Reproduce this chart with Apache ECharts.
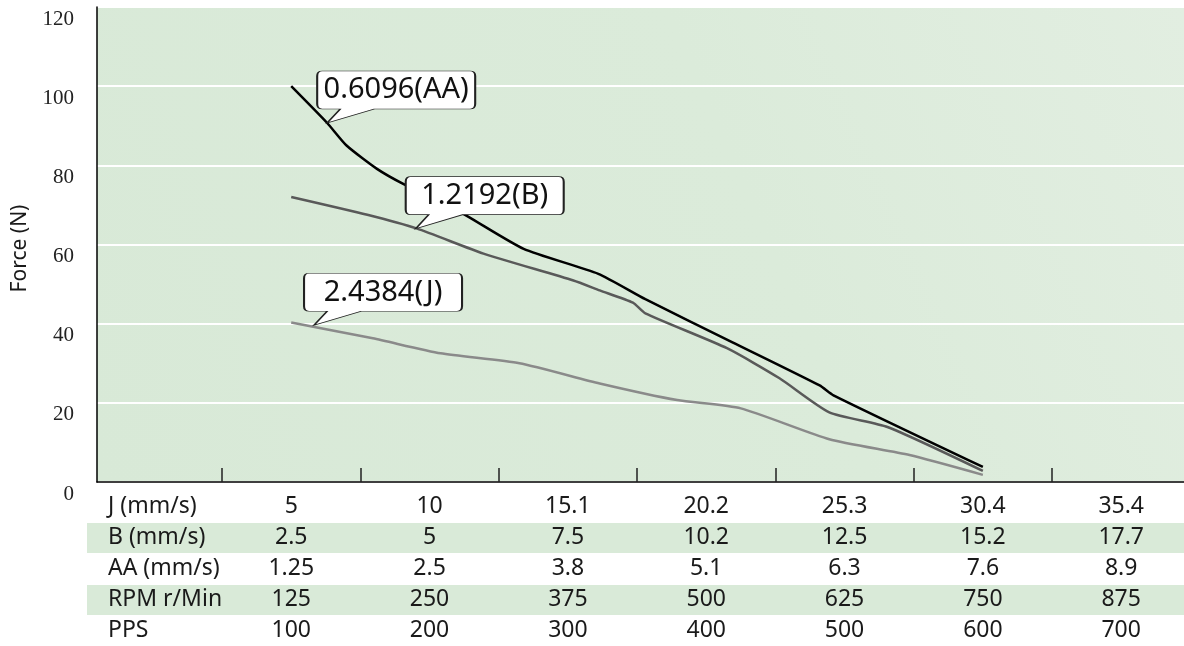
<!DOCTYPE html>
<html>
<head>
<meta charset="utf-8">
<script src="https://cdn.jsdelivr.net/npm/echarts@6/dist/echarts.min.js"></script>
<style>
  html, body { margin: 0; background: #fff; }
  #main { width: 1184px; height: 646px; }
</style>
</head>
<body>
<div id="main"></div>
<script>
// table under the plot: one column per speed step
const rowLabels = ['J (mm/s)', 'B (mm/s)', 'AA (mm/s)', 'RPM r/Min', 'PPS'];
const speedJ = ['5', '10', '15.1', '20.2', '25.3', '30.4', '35.4'];
const speedB = ['2.5', '5', '7.5', '10.2', '12.5', '15.2', '17.7'];
const speedAA = ['1.25', '2.5', '3.8', '5.1', '6.3', '7.6', '8.9'];
const rpm = ['125', '250', '375', '500', '625', '750', '875'];
const pps = ['100', '200', '300', '400', '500', '600', '700'];
const tableRows = [speedJ, speedB, speedAA, rpm, pps];

// force curves, x = column index in the table (0 = first speed step)
const forceAA = [[0, 100], [0.26, 90.7], [0.4, 85], [0.62, 79.1], [0.82, 75.1], [1.24, 67.8],
  [1.68, 58.9], [2.22, 52.6], [2.56, 46.2], [3.19, 35.3], [3.82, 24.4], [3.92, 21.9], [5, 3.8]];
const forceB = [[0, 72], [0.55, 67.5], [0.91, 64], [1.39, 57.7], [2.04, 50.9], [2.23, 48.4],
  [2.47, 45.3], [2.56, 42.6], [3.15, 33.8], [3.53, 26.2], [3.89, 17.6], [4.31, 13.9], [5, 2.8]];
const forceJ = [[0, 40.3], [0.59, 36.3], [1.08, 32.5], [1.65, 30], [2.23, 24.9], [2.79, 20.7],
  [3.25, 18.6], [3.89, 10.8], [4.47, 6.8], [5, 1.8]];

const callouts = [
  { name: '0.6096(AA)', coord: [0.26, 90.7] },
  { name: '1.2192(B)', coord: [0.9, 64] },
  { name: '2.4384(J)', coord: [0.165, 39.6] }
];

const calloutPath = 'path://M5,0 H153 Q158,0 158,5 V33 Q158,38 153,38 H57 L10,52 L23,38 H5 Q0,38 0,33 V5 Q0,0 5,0 Z';

const font = 'Noto Sans';
const rowTop = 491;
const rowH = 31;

function markFor(c) {
  return {
    z: 20,
    symbol: calloutPath,
    symbolSize: [158, 52],
    symbolOffset: [69, -26],
    itemStyle: { color: '#fff', borderColor: '#222', borderWidth: 1.2 },
    label: {
      show: true, position: 'inside', offset: [0, -7], formatter: '{b}',
      fontSize: 29, fontFamily: font, color: '#111'
    },
    data: [c]
  };
}

const graphics = [];
[1, 3].forEach(r => {
  graphics.push({
    type: 'rect', z: -10,
    shape: { x: 87, y: rowTop + r * rowH + 1, width: 1097, height: rowH - 1 },
    style: { fill: '#d9ead8' }
  });
});
rowLabels.forEach((t, r) => {
  graphics.push({
    type: 'text', x: 108, y: rowTop + r * rowH + rowH / 2,
    style: { text: t, fontSize: 23, fontFamily: font, fill: '#1a1a1a', align: 'left', verticalAlign: 'middle' }
  });
});

const chart = echarts.init(document.getElementById('main'));
chart.setOption({
  animation: false,
  grid: {
    left: 97, right: 0, top: 7, bottom: 164, show: true, borderWidth: 0,
    backgroundColor: new echarts.graphic.LinearGradient(0, 1, 1, 0, [
      { offset: 0, color: '#d8e9d7' },
      { offset: 0.6, color: '#dbebda' },
      { offset: 1, color: '#e2eee1' }
    ])
  },
  graphic: { elements: graphics },
  xAxis: {
    type: 'value', min: -1.404, max: 6.454,
    axisLine: { show: true, onZero: false, lineStyle: { color: '#000', width: 1.5 } },
    axisTick: {
      show: true, inside: true, length: 14,
      customValues: [-0.5, 0.5, 1.5, 2.5, 3.5, 4.5, 5.5],
      lineStyle: { color: '#222', width: 1.5 }
    },
    axisLabel: {
      customValues: [0, 1, 2, 3, 4, 5, 6],
      formatter: v => tableRows.map(row => row[Math.round(v)]).join('\n'),
      fontSize: 23, lineHeight: rowH, margin: 9, color: '#1a1a1a', fontFamily: font
    },
    splitLine: { show: false }
  },
  yAxis: {
    type: 'value', min: 0, max: 120, interval: 20,
    name: 'Force (N)', nameLocation: 'middle', nameGap: 66,
    nameTextStyle: { fontSize: 21, fontFamily: font, color: '#1a1a1a', padding: [0, 8, 0, 0] },
    axisLine: { show: true, onZero: false, lineStyle: { color: '#000', width: 1.5 } },
    axisTick: { show: false },
    axisLabel: {
      fontSize: 21, fontFamily: 'Liberation Serif', color: '#222',
      margin: 23, verticalAlign: 'top', lineHeight: 24
    },
    splitLine: { lineStyle: { color: '#fff', width: 2 } }
  },
  series: [
    {
      name: 'J', type: 'line', data: forceJ, showSymbol: false, smooth: 0.2, z: 3,
      lineStyle: { color: '#8a8a8a', width: 2.5 }, markPoint: markFor(callouts[2])
    },
    {
      name: 'B', type: 'line', data: forceB, showSymbol: false, smooth: 0.2, z: 4,
      lineStyle: { color: '#595959', width: 2.5 }, markPoint: markFor(callouts[1])
    },
    {
      name: 'AA', type: 'line', data: forceAA, showSymbol: false, smooth: 0.2, z: 5,
      lineStyle: { color: '#000', width: 2.5 }, markPoint: markFor(callouts[0])
    }
  ]
});
</script>
</body>
</html>
